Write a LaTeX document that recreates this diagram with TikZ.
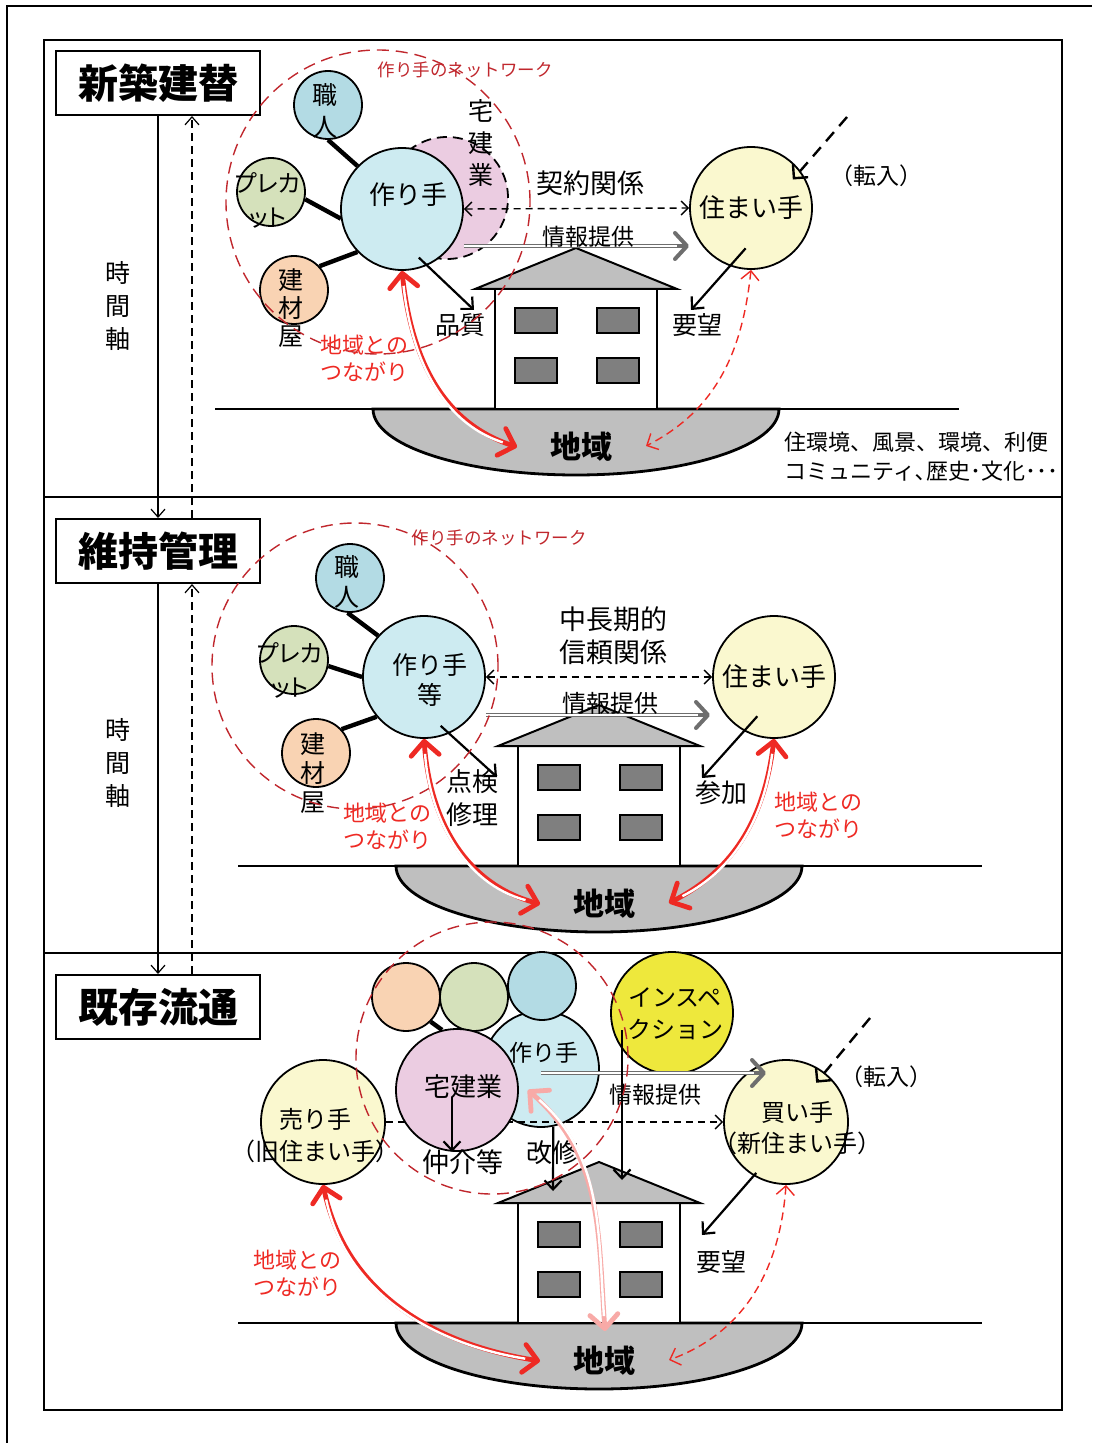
\documentclass[tikz,border=0pt]{standalone}
\usepackage{fontspec}
\setmainfont{Noto Sans CJK JP}
\newfontfamily\jprop[RawFeature=+palt]{Noto Sans CJK JP}
\usetikzlibrary{positioning,arrows.meta,calc}

\definecolor{makerblue}{HTML}{CDEBF1}
\definecolor{craftblue}{HTML}{B3DBE4}
\definecolor{precutgreen}{HTML}{D5E1BB}
\definecolor{supplypeach}{HTML}{F9D3B3}
\definecolor{realtorpink}{HTML}{EBCCE1}
\definecolor{residentyellow}{HTML}{FAF8CF}
\definecolor{inspectyellow}{HTML}{EEE83C}
\definecolor{netred}{HTML}{C0272D}
\definecolor{linkred}{HTML}{EE2A24}
\definecolor{infogray}{HTML}{6E6E6E}
\definecolor{groundgray}{HTML}{BFBFBF}
\definecolor{windowgray}{HTML}{7F7F7F}

\newcommand{\jfs}[2]{\fontsize{#1}{#2}\selectfont}
% narrow brackets
\newcommand{\jlp}{\makebox[0.6em][r]{（}}
\newcommand{\jrp}{\makebox[0.6em][l]{）}}
% red double link: red outline with tips, then a thin white core
\newcommand{\tielink}[2][linkred]{%
  \draw[tie, draw=#1] #2;
  \draw[tiecore] #2;}

\begin{document}
\begin{tikzpicture}[x=0.5pt, y=-0.5pt,
    every node/.style={inner sep=0pt},
    phase/.style={draw, line width=1pt, minimum width=102pt, minimum height=32pt,
                  font=\bfseries\jfs{20}{24}},
    member/.style={circle, draw, line width=0.9pt, minimum size=34pt},
    party/.style={circle, draw, line width=0.9pt, minimum size=61pt},
    realtor/.style={circle, draw, line width=0.9pt, dash pattern=on 5pt off 3pt,
                    fill=realtorpink, minimum size=61pt},
    net/.style={circle, draw=netred, line width=0.7pt, dash pattern=on 6pt off 3.5pt},
    netlbl/.style={text=netred, font=\jfs{8.75}{10}},
    lbl/.style={align=center, font=\jfs{12.5}{16}},
    redlbl/.style={text=linkred, align=left, anchor=west, font=\jfs{11}{13.5}},
    regionlbl/.style={font=\bfseries\jfs{15.5}{18}},
    spoke/.style={line width=2.2pt},
    flow/.style={line width=1.1pt, -{Straight Barb[length=4.5pt, width=8.5pt]}},
    contract/.style={line width=0.7pt, dash pattern=on 3.5pt off 2.5pt,
                     {Straight Barb[length=3.5pt, width=7pt]}-{Straight Barb[length=3.5pt, width=7pt]}},
    info/.style={draw=infogray, line width=2pt,
                 -{Straight Barb[length=6pt, width=13pt, line width=2pt, round]}},
    infocore/.style={draw=white, line width=0.8pt, shorten >=6pt},
    tie/.style={line width=2.4pt,
                {Straight Barb[length=7pt, width=14pt, line width=2.4pt, round]}-{Straight Barb[length=7pt, width=14pt, line width=2.4pt, round]}},
    tiecore/.style={draw=white, line width=1.2pt, shorten <=7.5pt, shorten >=7.5pt},
    tiedash/.style={draw=linkred, line width=0.7pt, dash pattern=on 4pt off 2.5pt,
                    {Straight Barb[length=4.5pt, width=9pt]}-{Straight Barb[length=4.5pt, width=9pt]}},
    move/.style={line width=1.2pt, dash pattern=on 6pt off 4pt,
                 -{Straight Barb[length=5pt, width=10pt]}},
    axis/.style={line width=0.6pt, -{Straight Barb[length=4pt, width=7pt]}},
  ]
  \useasboundingbox (0,0) rectangle (1092,1443);

  % frames
  \draw[line width=1pt] (7,1443) -- (7,6) -- (1092,6);
  \draw[line width=1pt] (44,40) rectangle (1062,1410);
  \draw[line width=1pt] (44,497) -- (1062,497);
  \draw[line width=1pt] (44,953) -- (1062,953);

  % phases and time axis
  \node[phase] (phase1) at (158,83) {新築建替};
  \node[phase] (phase2) at (158,551) {維持管理};
  \node[phase] (phase3) at (158,1007) {既存流通};
  \draw[axis] (phase1.south) -- (phase2.north);
  \draw[axis] (phase2.south) -- (phase3.north);
  \draw[axis, dash pattern=on 4pt off 2.5pt] ([xshift=17pt]phase3.north) -- ([xshift=17pt]phase2.south);
  \draw[axis, dash pattern=on 4pt off 2.5pt] ([xshift=17pt]phase2.north) -- ([xshift=17pt]phase1.south);
  \node[lbl, font=\jfs{12.5}{16.5}] (time1) at (118,306) {時\\間\\軸};
  \node[lbl, font=\jfs{12.5}{16.5}] (time2) at (118,763) {時\\間\\軸};

  % house on the ground, one per phase
  \foreach \i/\hx/\gy in {1/576/409, 2/599/866, 3/599/1323} {
    \begin{scope}[shift={(\hx,\gy)}]
      \draw[fill=groundgray, line width=1.4pt] (-203,0)
        arc[start angle=180, end angle=0, x radius=203, y radius=66] -- cycle;
      \draw[line width=1pt] (-361,0) -- (383,0);
      \draw[fill=white, line width=0.8pt] (-81,0) rectangle (81,-120);
      \draw[fill=groundgray, line width=1pt] (-101,-120) -- (0,-161) -- (101,-120) -- cycle;
      \foreach \wx in {-61,21}
        \foreach \wy in {-101,-51}
          \draw[fill=windowgray, line width=1pt] (\wx,\wy) rectangle ++(42,25);
      \node[regionlbl] (region\i) at (5,38) {地域};
      \coordinate (regionL\i) at (-59,38);
      \coordinate (regionR\i) at (70,37);
      \coordinate (regionT\i) at (6,8);
      \coordinate (roofL\i) at (-46,-132);
      \coordinate (roofR\i) at (23,-143);
    \end{scope}
  }

  % --- new build ---
  \node[realtor] (realtor1) at (447,198) {};
  \node[party, fill=makerblue] (maker1) at (402,209) {};
  \node[member, fill=craftblue] (craft1) at (328,105) {};
  \node[member, fill=precutgreen] (precut1) at (271,192) {};
  \node[member, fill=supplypeach] (supply1) at (294,290) {};
  \draw[spoke] (craft1.-90) -- (maker1.136);
  \draw[spoke] (precut1.-12) -- (maker1.-171);
  \draw[spoke] (supply1.43) -- (maker1.-136);
  \node[party, fill=residentyellow, font=\jfs{13}{16}] (resident1) at (751,208) {住まい手};

  \node[lbl] (craft1t) at (325,111) {職\\人};
  \node[lbl, font=\jprop\jfs{12}{17}] (precut1t) at (268,200) {プレカ\\ット};
  \node[lbl, font=\jfs{12.5}{14}] (supply1t) at (291,308) {建\\材\\屋};
  \node[lbl] (realtor1t) at (481,143) {宅\\建\\業};
  \node[lbl, font=\jfs{13}{16}] (maker1t) at (408,195) {作り手};
  \node[netlbl] (net1t) at (465,70) {作り手のネットワーク};

  \draw[contract] (maker1.east) -- (resident1.west);
  \node[lbl, font=\jfs{13.5}{16}] (contract1) at (590,183) {契約関係};
  \coordinate (info1) at (689,246);
  \draw[info] (maker1.east |- info1) -- (info1);
  \draw[infocore] (maker1.east |- info1) -- (info1);
  \node[lbl, font=\jfs{11.5}{14}] (info1t) at (588,237) {情報提供};
  \coordinate (quality1tip) at (474,310);
  \draw[flow, shorten <=-5.75pt] (maker1.-66) -- (quality1tip);
  \node[lbl] (quality1) at (460,325) {品質};
  \coordinate (request1tip) at (691,310);
  \draw[flow, shorten <=-11.9pt] (resident1.-110.6) -- (request1tip);
  \node[lbl] (request1) at (697,325) {要望};
  \coordinate (move1) at (847,117);
  \draw[move, shorten >=-5.8pt] (move1) -- (resident1.37);
  \node[lbl, font=\jfs{11.5}{14}] (move1t) at (876,176) {\jlp 転入\jrp};
  \node[lbl, anchor=west, align=left, font=\jfs{11}{14.5}] (scene1) at (784,457)
    {住環境、風景、環境、利便\\コミュニティ､歴史･文化･･･};

  \node[net, minimum size=152pt] (net1) at (378,202) {};
  \node[redlbl] (tie1t) at (320,358) {地域との\\つながり};
  \tielink{(maker1.south) to[out=-84, in=162] (regionL1)}
  \draw[tiedash] (resident1.south) to[out=-96, in=27] (regionR1);

  % --- upkeep ---
  \node[party, fill=makerblue] (maker2) at (424,677) {};
  \node[member, fill=craftblue] (craft2) at (350,578) {};
  \node[member, fill=precutgreen] (precut2) at (294,660) {};
  \node[member, fill=supplypeach] (supply2) at (316,753) {};
  \draw[spoke] (craft2.-94) -- (maker2.138);
  \draw[spoke] (precut2.-10) -- (maker2.180);
  \draw[spoke] (supply2.43) -- (maker2.-140);
  \node[party, fill=residentyellow, font=\jfs{13}{16}] (resident2) at (774,677) {住まい手};

  \node[lbl, font=\jfs{12.5}{15}] (craft2t) at (347,582) {職\\人};
  \node[lbl, font=\jprop\jfs{12}{17}] (precut2t) at (290,670) {プレカ\\ット};
  \node[lbl, font=\jfs{12.5}{14.5}] (supply2t) at (313,773) {建\\材\\屋};
  \node[lbl, font=\jfs{12.5}{15}] (maker2t) at (430,680) {作り手\\等};
  \node[netlbl] (net2t) at (499,538) {作り手のネットワーク};

  \draw[contract] (maker2.east) -- (resident2.west);
  \node[lbl, font=\jfs{13.5}{16.5}] (trust2) at (613,636) {中長期的\\信頼関係};
  \coordinate (info2) at (710,715);
  \draw[info] (maker2.east |- info2) -- (info2);
  \draw[infocore] (maker2.east |- info2) -- (info2);
  \node[lbl, font=\jfs{12}{14}] (info2t) at (610,703) {情報提供};
  \coordinate (repair2tip) at (497,777);
  \draw[flow, shorten <=-5.75pt] (maker2.-66) -- (repair2tip);
  \node[lbl, font=\jfs{13}{16.5}] (repair2) at (472,798) {点検\\修理};
  \coordinate (join2tip) at (702,778);
  \draw[flow, shorten <=-10pt] (resident2.-119.6) -- (join2tip);
  \node[lbl, font=\jfs{13}{16}] (join2) at (721,793) {参加};

  \node[net, minimum size=143pt] (net2) at (355,666) {};
  \node[redlbl] (tie2l) at (343,826) {地域との\\つながり};
  \node[redlbl] (tie2r) at (774,815) {地域との\\つながり};
  \tielink{(maker2.south) to[out=-86, in=165] (regionL2)}
  \tielink{(resident2.south) to[out=-97, in=27] (regionR2)}

  % --- resale ---
  \node[party, fill=makerblue, minimum size=58pt] (maker3) at (541,1069) {};
  \node[member, fill=supplypeach] (supply3) at (406,997) {};
  \node[member, fill=precutgreen] (precut3) at (474,997) {};
  \node[member, fill=craftblue] (craft3) at (542,986) {};
  \node[party, fill=residentyellow, minimum size=62pt] (seller3) at (323,1122) {};
  \node[party, fill=residentyellow, minimum size=62pt] (buyer3) at (786,1122) {};
  \node[party, fill=inspectyellow] (inspect3) at (672,1013) {};
  \draw[contract, -{Straight Barb[length=3.5pt, width=7pt]}] (seller3.east) -- (buyer3.west);
  \node[party, fill=realtorpink] (broker3) at (457,1090) {};
  \draw[spoke] (supply3.-45) -- (broker3.104);

  \node[lbl, font=\jfs{11.5}{14}] (maker3t) at (544,1053) {作り手};
  \node[lbl, font=\jfs{13}{16}] (broker3t) at (463,1087) {宅建業};
  \node[lbl, font=\jfs{12}{16}] (inspect3t) at (675,1014) {インスペ\\クション};
  \node[lbl, font=\jfs{12}{16}] (seller3t) at (315,1136) {売り手\\\jlp 旧住まい手\jrp};
  \node[lbl, font=\jfs{12}{15.5}] (buyer3t) at (797,1128) {買い手\\\jlp 新住まい手\jrp};

  \coordinate (info3) at (766,1073);
  \draw[info] (maker3.center |- info3) -- (info3);
  \draw[infocore] (maker3.center |- info3) -- (info3);
  \node[lbl, font=\jfs{11.5}{14}] (info3t) at (655,1095) {情報提供};
  \coordinate (deal3) at (452,1097);
  \draw[flow] (deal3) -- (deal3 |- broker3.south);
  \node[lbl, font=\jfs{13.5}{16}] (deal3t) at (463,1162) {仲介等};
  \draw[flow] (maker3.-78) -- (roofL3);
  \node[lbl, font=\jfs{13}{16}] (renov3) at (552,1153) {改修};
  \draw[flow, shorten <=8.5pt] (inspect3.center -| roofR3) -- (roofR3);
  \coordinate (request3tip) at (702,1235);
  \draw[flow, shorten <=-2pt] (buyer3.-121) -- (request3tip);
  \node[lbl] (request3) at (721,1262) {要望};
  \coordinate (move3) at (870,1018);
  \draw[move, shorten >=-6.7pt] (move3) -- (buyer3.52.5);
  \node[lbl, font=\jfs{11.5}{14}] (move3t) at (886,1077) {\jlp 転入\jrp};

  \node[net, minimum size=136pt] (net3) at (492,1058) {};
  \node[redlbl] (tie3t) at (253,1273) {地域との\\つながり};
  \tielink[linkred!40]{([xshift=4.5pt]broker3.east) to[out=-41, in=94] (regionT3)}
  \tielink{(seller3.south) to[out=-78, in=171] (regionL3)}
  \draw[tiedash] (buyer3.south) to[out=-94, in=20] (regionR3);
\end{tikzpicture}
\end{document}
